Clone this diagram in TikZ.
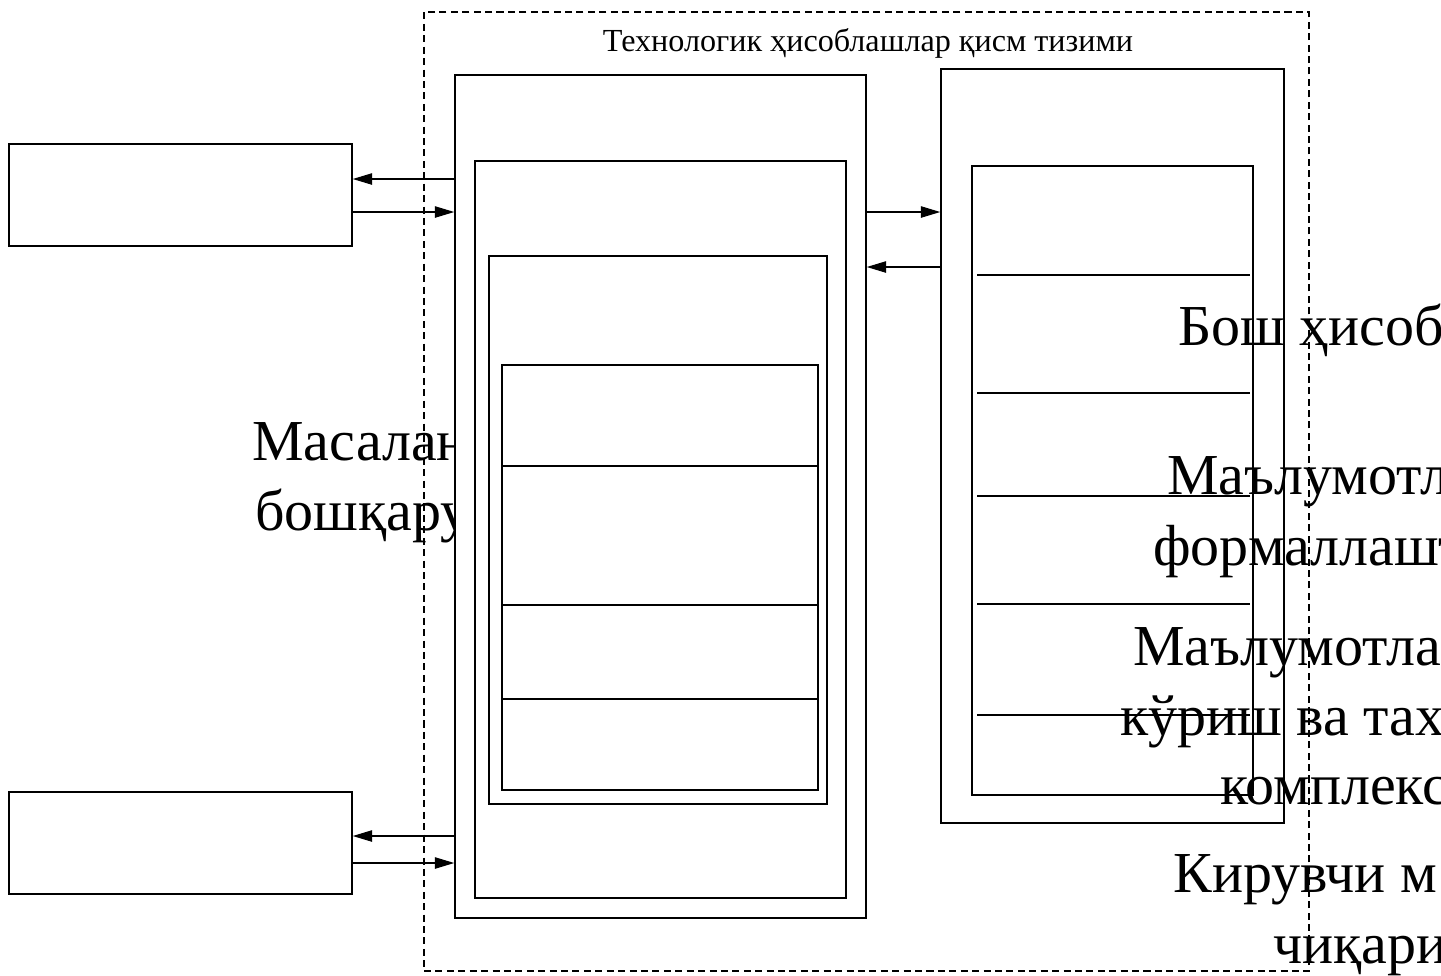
\documentclass[tikz,border=0pt]{standalone}
\usepackage{fontspec}
\setmainfont{Liberation Serif}
\usetikzlibrary{arrows.meta,fit}

\begin{document}
\begin{tikzpicture}[x=0.02cm,y=-0.02cm,
  blk/.style={draw,line width=0.9pt,fill=white,inner sep=0pt},
  arr/.style={line width=0.6pt,-{Triangle[length=11pt,width=6.5pt]}},
  bigtxt/.style={font=\fontsize{33pt}{40pt}\selectfont,anchor=base west,inner sep=0pt}]
\useasboundingbox (0,0) rectangle (1441,975);

\node[draw,dash pattern=on 4pt off 2.5pt,line width=0.8pt,inner sep=0pt,fit={(424,12) (1309,971)}] (tcs) {};
\node[font=\fontsize{18.3pt}{22pt}\selectfont,anchor=base,inner sep=0pt] (ttl) at (868,51) {Технологик ҳисоблашлар қисм тизими};

\node[bigtxt] (mas1) at (252,460) {Масалан};
\node[bigtxt] (mas2) at (255,530) {бошқару};

\node[blk,fit={(9,144) (352,246)}] (inp) {};
\node[blk,fit={(9,792) (352,894)}] (outp) {};

\node[blk,fit={(455,75) (866,918)}] (ctrl) {};
\node[blk,fit={(475,161) (846,898)}] (ctrlin) {};
\node[blk,fit={(489,256) (827,804)}] (ctrlcore) {};
\node[blk,fit={(502,365) (818,790)}] (ctrlmod) {};
\foreach \y in {466,605,699}{
  \draw[line width=0.9pt] (ctrlmod.west |- 0,\y) -- (ctrlmod.east |- 0,\y);
}

\node[blk,fit={(941,69) (1284,823)}] (store) {};
\node[blk,fit={(972,166) (1253,795)}] (storein) {};
\foreach \y in {275,393,496,604,715}{
  \draw[line width=0.9pt] (977,\y) -- (1250,\y);
}

\draw[arr] (ctrl.west |- 0,179) -- (inp.east |- 0,179);
\draw[arr] (inp.east |- 0,212) -- (ctrl.west |- 0,212);
\draw[arr] (ctrl.west |- 0,836) -- (outp.east |- 0,836);
\draw[arr] (outp.east |- 0,863) -- (ctrl.west |- 0,863);
\draw[arr] (ctrl.east |- 0,212) -- (store.west |- 0,212);
\draw[arr] (store.west |- 0,267) -- (ctrl.east |- 0,267);

\node[bigtxt] (r1) at (1178,345) {Бош ҳисоб};
\node[bigtxt] (r2) at (1167,494) {Маълумотл};
\node[bigtxt] (r3) at (1153,565) {формаллашт};
\node[bigtxt] (r4) at (1133,665) {Маълумотла};
\node[bigtxt] (r5) at (1120,735) {кўриш ва тах};
\node[bigtxt] (r6) at (1220,804) {комплекс};
\node[bigtxt] (r7) at (1173,892) {Кирувчи м};
\node[bigtxt] (r8) at (1273,963) {чиқари};
\end{tikzpicture}
\end{document}
